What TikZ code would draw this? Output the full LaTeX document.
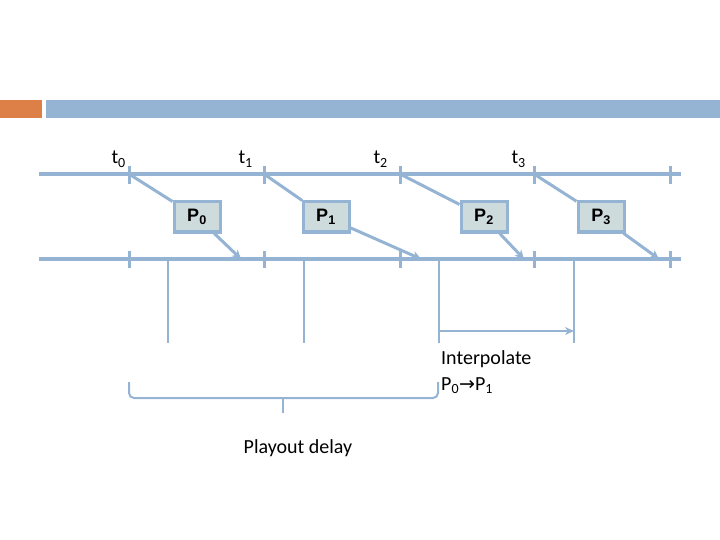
\documentclass[tikz,border=0pt]{standalone}
\usepackage{fontspec}
\setmainfont{Carlito}
\newfontfamily\boxfont{Liberation Sans}
\newfontfamily\arrowfont{DejaVu Sans}
\usetikzlibrary{arrows.meta, positioning}
\definecolor{lineblue}{RGB}{149,179,211}
\definecolor{barorange}{RGB}{221,128,71}
\definecolor{boxfill}{RGB}{205,219,220}

\begin{document}
\begin{tikzpicture}[x=1pt, y=-1pt, font=\fontsize{20}{26}\selectfont,
				axis/.style={draw=lineblue, line width=4pt},
				tickmark/.style={draw=lineblue, line width=3pt},
				packet/.style={draw=lineblue, line width=3pt, fill=boxfill, minimum width=46pt, minimum height=30pt, inner sep=0pt, font=\boxfont\bfseries\fontsize{18}{20}\selectfont},
				feed/.style={draw=lineblue, line width=3pt},
				arrow/.style={-{Stealth[length=9pt,width=9pt]}, draw=lineblue, line width=3pt},
				guide/.style={draw=lineblue, line width=2pt},
				tlabel/.style={anchor=base east, inner sep=0pt}]
				
				\useasboundingbox (0,0) rectangle (720,540);
				
				% title bar
				\fill[barorange] (0,100) rectangle (42,118);
				\fill[lineblue] (46,100) rectangle (720,118);
				
				% sender and receiver time lines
				\coordinate (topL) at (39,174);
				\coordinate (topR) at (681,174);
				\coordinate (botL) at (39,259);
				\coordinate (botR) at (681,259);
				\draw[axis] (topL) -- (topR);
				\draw[axis] (botL) -- (botR);
				
				\foreach \x [count=\i from 0] in {129,264,400,534,670} {
					\coordinate (top\i) at (\x,174);
					\coordinate (bot\i) at (\x,259);
					\draw[tickmark] (\x,166) -- (\x,184);
					\draw[tickmark] (\x,251) -- (\x,268);
				}
				
				\node[tlabel] (t0) at (126,164) {t\textsubscript{0}};
				\node[tlabel] (t1) at (253,164) {t\textsubscript{1}};
				\node[tlabel] (t2) at (388,164) {t\textsubscript{2}};
				\node[tlabel] (t3) at (526,164) {t\textsubscript{3}};
				
				% packets
				\node[packet] (P0) at (197,217) {P\textsubscript{0}};
				\node[packet] (P1) at (326,217) {P\textsubscript{1}};
				\node[packet] (P2) at (484,217) {P\textsubscript{2}};
				\node[packet] (P3) at (601,217) {P\textsubscript{3}};
				
				\coordinate (a0) at (241,259);
				\coordinate (a1) at (421,259);
				\coordinate (a2) at (524,259);
				\coordinate (a3) at (659,259);
				
				\foreach \i in {0,...,3} {
					\draw[feed] (top\i) -- (P\i);
					\draw[arrow] (P\i) -- (a\i);
				}
				
				% playout instants
				\foreach \x [count=\i] in {168,304,439,574} {
					\coordinate (d\i) at (\x,259);
					\coordinate (e\i) at (\x,343);
					\draw[guide] (d\i) -- (e\i);
				}
				
				\coordinate (i0) at (439,331);
				\coordinate (i1) at (574,331);
				\draw[guide, -{Stealth[length=9pt,width=8pt]}] (i0) -- (i1);
				
				\node[anchor=north west, align=left, inner sep=0pt] (interp) at (441,350) {Interpolate\\P\textsubscript{0}{\arrowfont\fontsize{19}{26}\selectfont →}P\textsubscript{1}};
				
				% playout delay bracket
				\coordinate (b0) at (129,382);
				\coordinate (b1) at (129,398);
				\coordinate (b2) at (438,398);
				\coordinate (b3) at (438,382);
				\coordinate (bm) at (283,398);
				\coordinate (bt) at (283,413);
				\draw[guide, rounded corners=5pt] (b0) -- (b1) -- (b2) -- (b3);
				\draw[guide] (bm) -- (bt);
				
				\node[anchor=base, inner sep=0pt] (delay) at (298,453) {Playout delay};
			\end{tikzpicture}
\end{document}
